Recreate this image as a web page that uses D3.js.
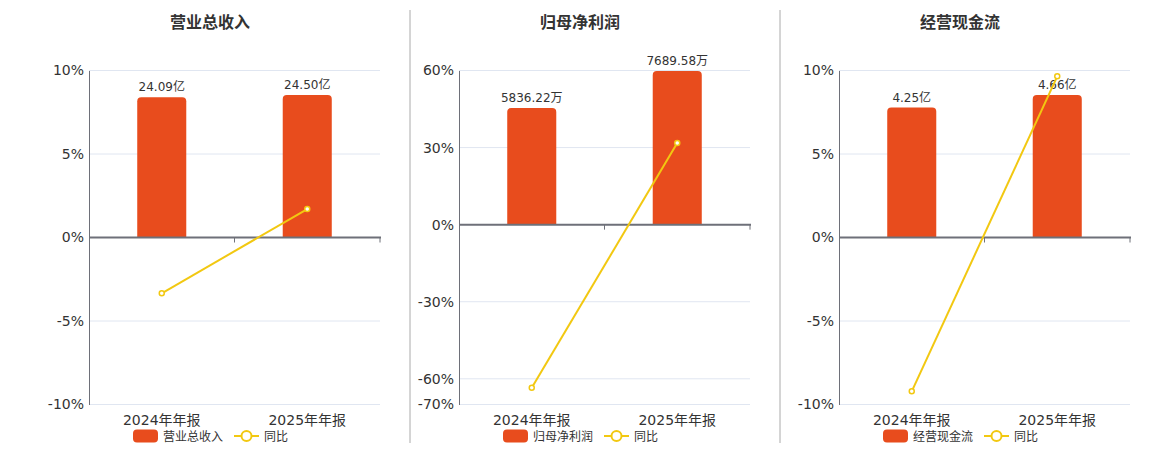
<!DOCTYPE html>
<html>
<head>
<meta charset="utf-8">
<script src="https://cdn.jsdelivr.net/npm/d3@7"></script>
<style>
  body { margin: 0; background: #fff; }
  text { font-family: "DejaVu Sans", "Noto Sans CJK SC", sans-serif; }
</style>
</head>
<body>
<svg width="1160" height="450"></svg>
<script>
// data
var categories = ["2024年年报", "2025年年报"];
var titles = ["营业总收入", "归母净利润", "经营现金流"];
var barValues = [[24.09, 24.50], [5836.22, 7689.58], [4.25, 4.66]];
var barLabels = [["24.09亿", "24.50亿"], ["5836.22万", "7689.58万"], ["4.25亿", "4.66亿"]];
var yoyValues = [[-3.34, 1.70], [-63.5, 31.76], [-9.21, 9.65]];
var yTicks = [[-10, -5, 0, 5, 10], [-70, -60, -30, 0, 30, 60], [-10, -5, 0, 5, 10]];
// hidden bar axis top value, so that bars share the zero of the % axis
var barAxisTop = [28.7, 7719, 5.46];

var barColor = "#e84c1d",
    lineColor = "#f2c811",
    gridColor = "#e0e6f1",
    axisColor = "#6e7079",
    textColor = "#333";

var svg = d3.select("svg");

var plotLefts = [89, 459, 839],
    plotWidth = 291,
    plotTop = 70.5,
    plotBottom = 404.5;

// panel separators
[410, 780].forEach(function(sx) {
    svg.append("line")
        .attr("x1", sx).attr("x2", sx)
        .attr("y1", 10).attr("y2", 443)
        .attr("stroke", "#aaa").attr("stroke-width", 1);
});

titles.forEach(function(title, i) {
    var left = plotLefts[i], right = left + plotWidth;
    var ticks = yTicks[i];
    var g = svg.append("g");

    var x = d3.scaleBand().domain(categories).range([left, right]).padding(0);
    var y = d3.scaleLinear()
        .domain([d3.min(ticks), d3.max(ticks)])
        .range([plotBottom, plotTop]);
    var yBar = d3.scaleLinear()
        .domain([0, barAxisTop[i]])
        .range([y(0), plotTop]);

    var center = left + plotWidth / 2 - 24.5;

    // title
    g.append("text")
        .attr("x", center).attr("y", 28)
        .attr("text-anchor", "middle")
        .attr("font-size", 16).attr("font-weight", "bold")
        .attr("fill", textColor)
        .text(title);

    // gridlines
    g.selectAll(".grid").data(ticks).enter().append("line")
        .attr("x1", left).attr("x2", right)
        .attr("y1", function(d) { return y(d); })
        .attr("y2", function(d) { return y(d); })
        .attr("stroke", gridColor).attr("stroke-width", 1);

    // y axis
    var yAxis = g.append("g")
        .attr("transform", "translate(" + left + ",0)")
        .call(d3.axisLeft(y).tickValues(ticks).tickSize(0).tickPadding(5)
            .tickFormat(function(d) { return d + "%"; }));
    yAxis.select(".domain").attr("stroke", axisColor).attr("stroke-width", 1);
    yAxis.selectAll("text").attr("font-size", 14).attr("fill", textColor)
        .attr("font-family", "DejaVu Sans, sans-serif");

    // bars with rounded tops
    var bw = x.bandwidth() * 0.337, r = 4;
    g.selectAll(".bar").data(barValues[i]).enter().append("path")
        .attr("fill", barColor)
        .attr("d", function(d, j) {
            var bx = x(categories[j]) + (x.bandwidth() - bw) / 2,
                top = yBar(d), base = y(0);
            return "M" + bx + "," + base +
                "V" + (top + r) +
                "Q" + bx + "," + top + " " + (bx + r) + "," + top +
                "H" + (bx + bw - r) +
                "Q" + (bx + bw) + "," + top + " " + (bx + bw) + "," + (top + r) +
                "V" + base + "Z";
        });

    g.selectAll(".blabel").data(barValues[i]).enter().append("text")
        .attr("x", function(d, j) { return x(categories[j]) + x.bandwidth() / 2; })
        .attr("y", function(d) { return yBar(d) - 6; })
        .attr("text-anchor", "middle")
        .attr("font-size", 12).attr("fill", textColor)
        .text(function(d, j) { return barLabels[i][j]; });

    // x axis on the zero line
    var xAxis = g.append("g")
        .attr("transform", "translate(0," + y(0) + ")");
    xAxis.append("line")
        .attr("x1", left).attr("x2", right + 1)
        .attr("stroke", axisColor).attr("stroke-width", 2);
    [1, 2].forEach(function(k) {
        var tx = left + k * x.bandwidth();
        xAxis.append("line")
            .attr("x1", tx).attr("x2", tx).attr("y1", 0).attr("y2", 5)
            .attr("stroke", axisColor).attr("stroke-width", 1);
    });

    g.selectAll(".xlabel").data(categories).enter().append("text")
        .attr("x", function(d) { return x(d) + x.bandwidth() / 2; })
        .attr("y", 425)
        .attr("text-anchor", "middle")
        .attr("font-size", 14).attr("fill", textColor)
        .text(function(d) { return d; });

    // yoy line
    var line = d3.line()
        .x(function(d, j) { return x(categories[j]) + x.bandwidth() / 2; })
        .y(function(d) { return y(d); });
    g.append("path")
        .datum(yoyValues[i])
        .attr("d", line)
        .attr("fill", "none")
        .attr("stroke", lineColor).attr("stroke-width", 2);
    g.selectAll(".pt").data(yoyValues[i]).enter().append("circle")
        .attr("cx", function(d, j) { return x(categories[j]) + x.bandwidth() / 2; })
        .attr("cy", function(d) { return y(d); })
        .attr("r", 2.5)
        .attr("fill", "#fff")
        .attr("stroke", lineColor).attr("stroke-width", 1.5);

    // legend
    var lg = g.append("g").attr("transform", "translate(" + (center - 77) + ",436)");
    lg.append("rect")
        .attr("x", 0).attr("y", -6.5).attr("width", 25).attr("height", 13)
        .attr("rx", 4).attr("fill", barColor);
    lg.append("text")
        .attr("x", 30).attr("y", 4.5)
        .attr("font-size", 12).attr("fill", textColor)
        .text(title);
    var lx = 30 + title.length * 12 + 11;
    lg.append("line")
        .attr("x1", lx).attr("x2", lx + 25)
        .attr("stroke", lineColor).attr("stroke-width", 2);
    lg.append("circle")
        .attr("cx", lx + 12.5).attr("cy", 0).attr("r", 5)
        .attr("fill", "#fff")
        .attr("stroke", lineColor).attr("stroke-width", 2);
    lg.append("text")
        .attr("x", lx + 30).attr("y", 4.5)
        .attr("font-size", 12).attr("fill", textColor)
        .text("同比");
});
</script>
</body>
</html>
